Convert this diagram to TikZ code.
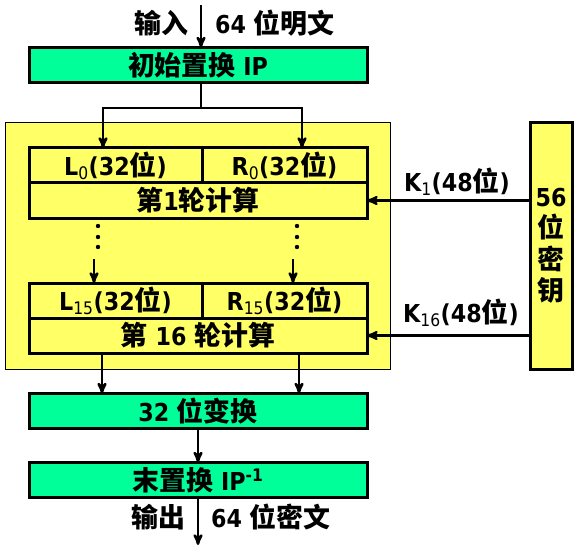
\documentclass[tikz,border=0pt]{standalone}
\usepackage{fontspec}
\setmainfont{DejaVu Sans}[FakeStretch=0.9]
\newfontfamily\cjk{Noto Sans CJK SC}[Scale=1.09]
\usetikzlibrary{positioning, arrows}
\newcommand{\zh}[1]{{\cjk #1}}
\definecolor{permgreen}{RGB}{0,255,153}
\definecolor{roundyellow}{RGB}{255,255,102}
\tikzset{
x=1pt, y=-1pt, % pixel-like units, y grows downwards
>=stealth', % arrow heads
box/.style={draw, line width=3pt, outer sep=0pt, inner sep=0pt, minimum height=35pt}, % every framed box
permbox/.style={box, fill=permgreen, minimum width=338pt}, % permutations
halfbox/.style={box, fill=roundyellow}, % L and R halves
roundbox/.style={box, fill=roundyellow, minimum width=338pt}, % round computation
stagebox/.style={draw, line width=1pt, fill=roundyellow, minimum width=385pt, minimum height=246pt},
keybox/.style={box, fill=roundyellow, minimum width=42pt, minimum height=246pt, align=center},
lbl/.style={inner sep=0pt}, % free labels
flow/.style={->, line width=2.5pt},
wire/.style={line width=2.5pt},
}

\begin{document}
\begin{tikzpicture}[font=\fontsize{24.7}{31.5}\selectfont\bfseries]
    \useasboundingbox (0,0) rectangle (575,556);
    \node[stagebox] (stage) at (197.5,246) {};
    \node[keybox] (key) at (551,246) {56\\\zh{位}\\\zh{密}\\\zh{钥}};
    \node[permbox] (ip) at (198,65) {\zh{初始置换} IP};
    \node[halfbox, minimum width=173pt] (l0) at (115.5,165.5) {L\textsubscript{\mdseries 0}(32\zh{位})};
    \node[halfbox, minimum width=165pt, right=0pt of l0] (r0) {R\textsubscript{\mdseries 0}(32\zh{位})};
    \node[roundbox, anchor=north west] (calc1) at (l0.south west) {\zh{第}1\zh{轮计算}};
    \node[halfbox, minimum width=173pt] (l15) at (115.5,300.5) {L\textsubscript{\mdseries 15}(32\zh{位})};
    \node[halfbox, minimum width=165pt, right=0pt of l15] (r15) {R\textsubscript{\mdseries 15}(32\zh{位})};
    \node[roundbox, anchor=north west] (calc16) at (l15.south west) {\zh{第} 16 \zh{轮计算}};
    \node[permbox] (swap) at (198,411) {32 \zh{位变换}};
    \node[permbox] (fp) at (198,480) {\zh{末置换} IP\textsuperscript{-1}};
    \node[lbl, anchor=base east] (inl) at (189,34) {\zh{输入}};
    \node[lbl, anchor=base west] (inr) at (215,34) {64 \zh{位明文}};
    \node[lbl, anchor=base east] (outl) at (186,527) {\zh{输出}};
    \node[lbl, anchor=base west] (outr) at (211,527) {64 \zh{位密文}};
    \coordinate (in) at (201,5);
    \coordinate (split) at (201,108);
    \coordinate (out) at (197,545);
    \coordinate (ldots) at (94,259);
    \coordinate (rdots) at (293,259);
    \draw[flow] (in) -- (in |- ip.north);
    \draw[wire] (in |- ip.south) -- (split);
    \draw[flow] (split) -| ([xshift=-12.5pt]l0.north);
    \draw[flow] (split) -| ([xshift=17.5pt]r0.north);
    \foreach \y in {226,237,247}
      \fill (98,\y) circle (2.2) (297,\y) circle (2.2);
    \draw[flow] (ldots) -- (ldots |- l15.north);
    \draw[flow] (rdots) -- (rdots |- r15.north);
    \draw[flow] ([xshift=-96pt]calc16.south) -- ([xshift=-96pt]calc16.south |- swap.north);
    \draw[flow] ([xshift=101pt]calc16.south) -- ([xshift=101pt]calc16.south |- swap.north);
    \draw[flow] (swap.south) -- (fp.north);
    \draw[flow] (fp.south) -- (fp.south |- out);
    \draw[flow] (key.west |- calc1.east) -- (calc1.east);
    \draw[flow] (key.west |- calc16.east) -- (calc16.east);
    \node[lbl, anchor=base] (k1) at (457,191) {K\textsubscript{\mdseries 1}(48\zh{位})};
    \node[lbl, anchor=base] (k16) at (461,322) {K\textsubscript{\mdseries 16}(48\zh{位})};
  \end{tikzpicture}
\end{document}
